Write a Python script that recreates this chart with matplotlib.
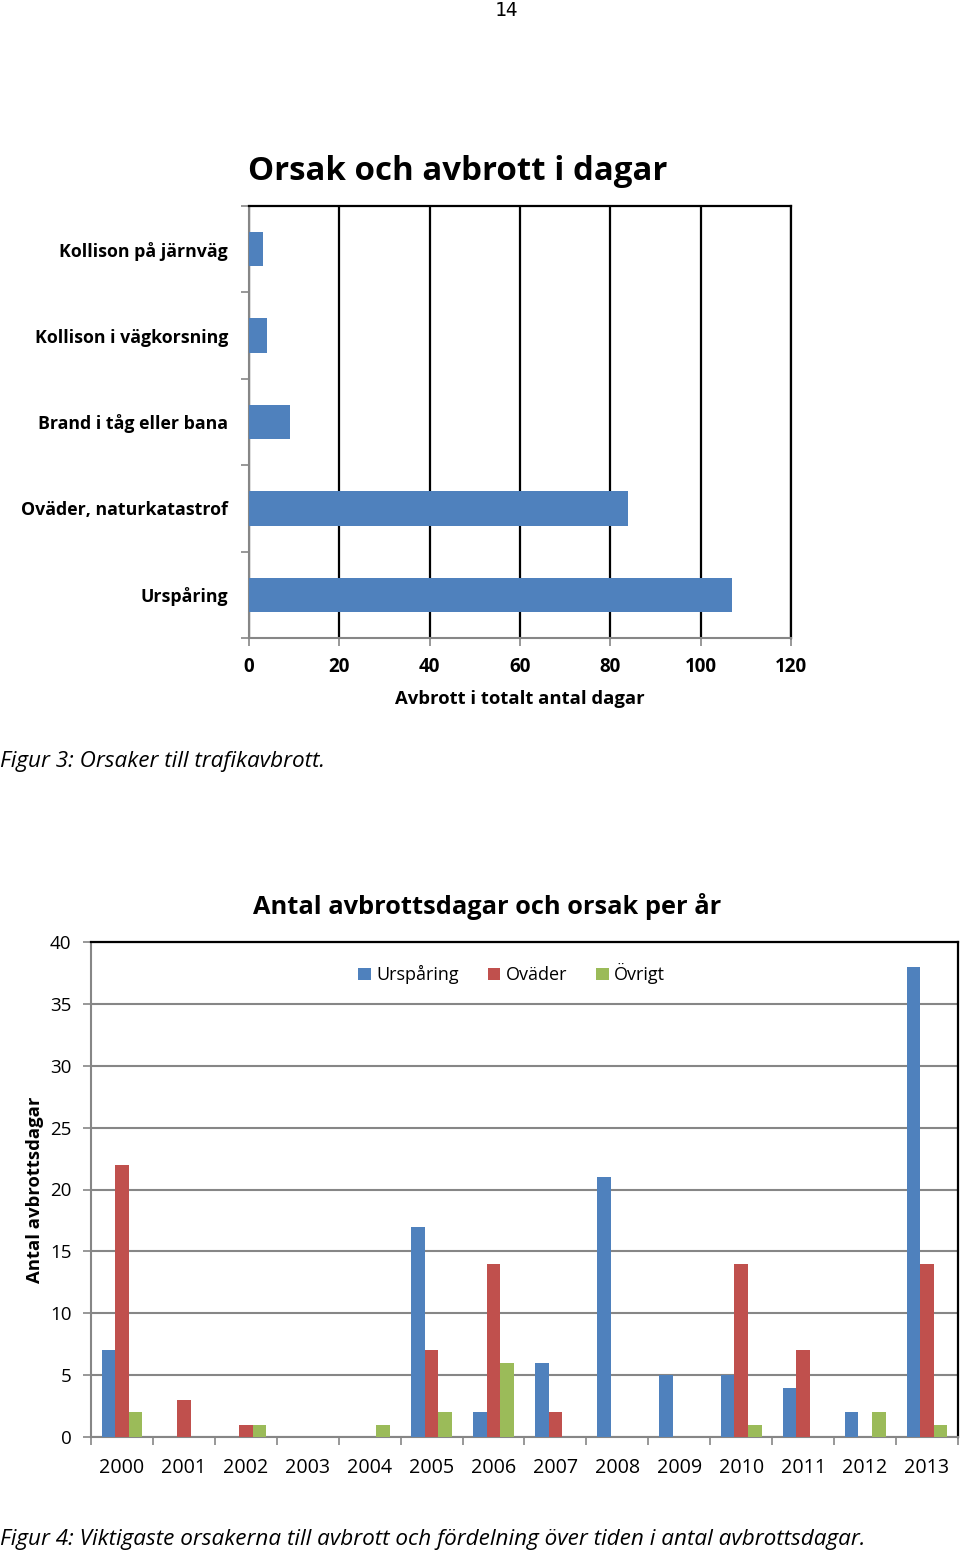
import numpy as np
import matplotlib
matplotlib.use("Agg")
import matplotlib.pyplot as plt

plt.rcParams['font.family'] = ['Open Sans', 'DejaVu Sans']

# Figur 3 data
orsaker = ['Kollison på järnväg', 'Kollison i vägkorsning', 'Brand i tåg eller bana',
           'Oväder, naturkatastrof', 'Urspåring']
dagar = [3, 4, 9, 84, 107]

# Figur 4 data
years = ['2000', '2001', '2002', '2003', '2004', '2005', '2006',
         '2007', '2008', '2009', '2010', '2011', '2012', '2013']
ursparing = [7, 0, 0, 0, 0, 17, 2, 6, 21, 5, 5, 4, 2, 38]
ovader = [22, 3, 1, 0, 0, 7, 14, 2, 0, 0, 14, 7, 0, 14]
ovrigt = [2, 0, 1, 0, 1, 2, 6, 0, 0, 0, 1, 0, 2, 1]

blue, red, green = '#4F81BD', '#C0504D', '#9BBB59'
grey = '#868686'

fig = plt.figure(figsize=(9.6, 15.56), dpi=100)

fig.text(506 / 960, 1 - 10 / 1556, '14', ha='center', va='center', fontsize=14,
         family='DejaVu Sans Mono')

# ---- top chart ----
ax1 = fig.add_axes([249 / 960, 1 - 638 / 1556, (791 - 249) / 960, (638 - 206) / 1556])
y = np.arange(len(orsaker))
ax1.barh(y, dagar, height=0.4, color=blue, zorder=3)
ax1.set_ylim(len(orsaker) - 0.5, -0.5)
ax1.set_xlim(0, 120)
ax1.set_xticks(np.arange(0, 121, 20))
ax1.set_xticklabels([str(v) for v in range(0, 121, 20)], fontsize=13.5, fontweight='bold')
ax1.set_yticks(y)
ax1.set_yticklabels(orsaker, fontsize=12.8, fontweight='bold')
ax1.tick_params(axis='y', which='major', length=0, pad=15)
ax1.set_yticks(np.arange(-0.5, len(orsaker)), minor=True)
ax1.tick_params(axis='y', which='minor', length=6, color=grey, width=1.2)
ax1.tick_params(axis='x', length=6, color=grey, width=1.2, pad=8)
ax1.grid(axis='x', color='black', linewidth=1.6, zorder=0)
for s in ['left', 'bottom']:
    ax1.spines[s].set_color(grey)
    ax1.spines[s].set_linewidth(1.5)
for s in ['top', 'right']:
    ax1.spines[s].set_color('black')
    ax1.spines[s].set_linewidth(1.6)
ax1.set_xlabel('Avbrott i totalt antal dagar', fontsize=13.3, fontweight='bold', labelpad=9)
fig.text(458 / 960, 1 - 171 / 1556, 'Orsak och avbrott i dagar', ha='center', va='center',
         fontsize=23.8, fontweight='bold')
fig.text(0, 1 - 762 / 1556, 'Figur 3: Orsaker till trafikavbrott.', ha='left', va='center',
         fontsize=16.2, style='italic')

# ---- bottom chart ----
ax2 = fig.add_axes([91 / 960, 1 - 1437 / 1556, (958 - 91) / 960, (1437 - 942) / 1556])
x = np.arange(len(years))
w = 0.22
ax2.bar(x - w, ursparing, width=w, color=blue, label='Urspåring', zorder=3)
ax2.bar(x, ovader, width=w, color=red, label='Oväder', zorder=3)
ax2.bar(x + w, ovrigt, width=w, color=green, label='Övrigt', zorder=3)
ax2.set_xlim(-0.5, len(years) - 0.5)
ax2.set_ylim(0, 40)
ax2.set_yticks(np.arange(0, 41, 5))
ax2.set_yticklabels([str(v) for v in range(0, 41, 5)], fontsize=13.5)
ax2.set_xticks(x)
ax2.set_xticklabels(years, fontsize=14.2)
ax2.tick_params(axis='x', which='major', length=0, pad=15)
ax2.set_xticks(np.arange(-0.5, len(years)), minor=True)
ax2.tick_params(axis='x', which='minor', length=6, color=grey, width=1.2)
ax2.tick_params(axis='y', length=6, color=grey, width=1.2, pad=8)
ax2.grid(axis='y', color=grey, linewidth=1.5, zorder=0)
for s in ['left', 'bottom']:
    ax2.spines[s].set_color(grey)
    ax2.spines[s].set_linewidth(1.5)
for s in ['top', 'right']:
    ax2.spines[s].set_color('black')
    ax2.spines[s].set_linewidth(1.6)
ax2.set_ylabel('Antal avbrottsdagar', fontsize=13.3, fontweight='bold', labelpad=4)
ax2.legend(loc='upper center', bbox_to_anchor=(0.485, 0.99), ncol=3, frameon=False,
           fontsize=13, handlelength=0.7, handleheight=0.7, handletextpad=0.3,
           columnspacing=1.6)
fig.text(487 / 960, 1 - 906 / 1556, 'Antal avbrottsdagar och orsak per år', ha='center',
         va='center', fontsize=18.3, fontweight='bold')
fig.text(0, 1 - 1540 / 1556,
         'Figur 4: Viktigaste orsakerna till avbrott och fördelning över tiden i antal avbrottsdagar.',
         ha='left', va='center', fontsize=16.2, style='italic')

fig.savefig('out.png', dpi=100)
